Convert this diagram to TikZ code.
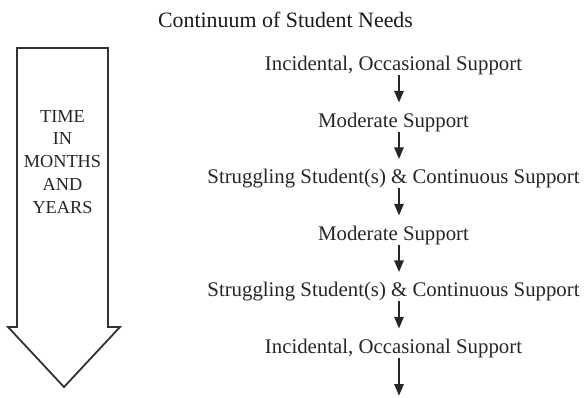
\documentclass[tikz,border=0pt]{standalone}
\usepackage{fontspec}
\setmainfont{Liberation Serif}
\usetikzlibrary{arrows.meta}

\begin{document}
\begin{tikzpicture}[x=1pt,y=-1pt,
		need/.style={anchor=base,inner sep=0pt,text height=14pt,text depth=4.5pt,
			font=\fontsize{20.8}{24}\selectfont,text=black!85},
		flow/.style={-{Triangle[length=12pt,width=9pt]},line width=2.8pt,draw=black!85,shorten >=10pt}]
		\useasboundingbox (0,0) rectangle (586,397);
		\coordinate (A1) at (17,48);
		\coordinate (A2) at (108,48);
		\coordinate (A3) at (108,327);
		\coordinate (A4) at (120,327);
		\coordinate (T) at (64,387);
		\coordinate (A5) at (8,327);
		\coordinate (A6) at (17,327);
		\draw[line width=1.8pt,draw=black!80,line join=miter] (A1) -- (A2) -- (A3) -- (A4) -- (T) -- (A5) -- (A6) -- cycle;
		\node[align=center,anchor=base,inner sep=0pt,font=\fontsize{18.3}{22.75}\selectfont,text=black!85] (time) at (62.5,213) {TIME\\IN\\MONTHS\\AND\\YEARS};
		\node[anchor=base,inner sep=0pt,font=\fontsize{21.9}{26}\selectfont,text=black!90] (title) at (285.5,27) {Continuum of Student Needs};
		\coordinate (axis) at (399,0);
		\node[need] (inc1) at (393.5,70.5) {Incidental, Occasional Support};
		\node[need] (mod1) at (393.5,127) {Moderate Support};
		\node[need] (strug1) at (393.5,183.5) {Struggling Student(s) \& Continuous Support};
		\node[need] (mod2) at (393.5,240) {Moderate Support};
		\node[need] (strug2) at (393.5,296.5) {Struggling Student(s) \& Continuous Support};
		\node[need] (inc2) at (393.5,353) {Incidental, Occasional Support};
		\coordinate (end) at (399,397);
		\draw[flow] (inc1.south -| axis) -- (mod1.north -| axis);
		\draw[flow] (mod1.south -| axis) -- (strug1.north -| axis);
		\draw[flow] (strug1.south -| axis) -- (mod2.north -| axis);
		\draw[flow] (mod2.south -| axis) -- (strug2.north -| axis);
		\draw[flow] (strug2.south -| axis) -- (inc2.north -| axis);
		\draw[flow,shorten >=1pt] (inc2.south -| axis) -- (end);
	\end{tikzpicture}
\end{document}
